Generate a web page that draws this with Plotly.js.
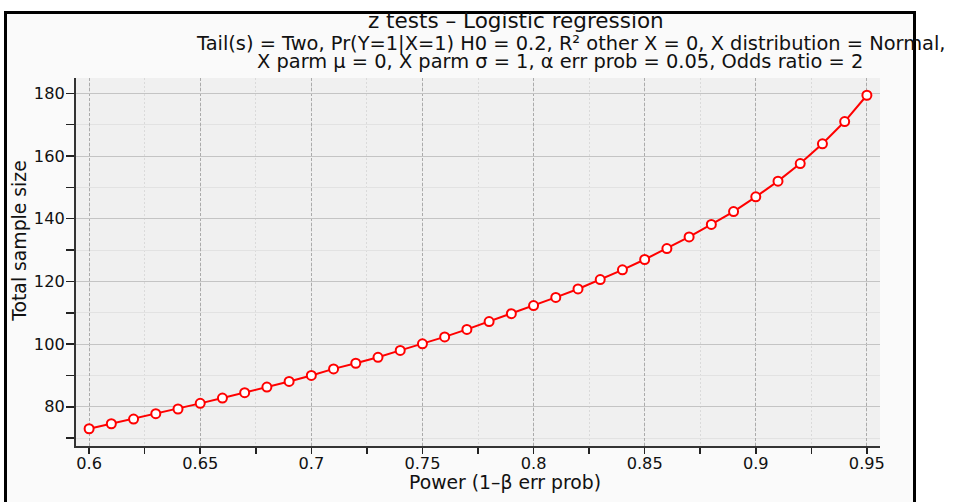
<!DOCTYPE html>
<html>
<head>
<meta charset="utf-8">
<script src="https://cdn.plot.ly/plotly-3.0.1.min.js"></script>
<style>
  html, body { margin: 0; padding: 0; background: #ffffff; }
  #frame { position: absolute; left: 4px; top: 11px; width: 906px; height: 520px;
           border: 3px solid #000; background: #fafafa; z-index: 0; }
  #chart { position: absolute; left: 0; top: 0; width: 953px; height: 502px; z-index: 1; }
</style>
</head>
<body>
<div id="frame"></div>
<div id="chart"></div>
<script>
const power = [0.60, 0.61, 0.62, 0.63, 0.64, 0.65, 0.66, 0.67, 0.68, 0.69,
               0.70, 0.71, 0.72, 0.73, 0.74, 0.75, 0.76, 0.77, 0.78, 0.79,
               0.80, 0.81, 0.82, 0.83, 0.84, 0.85, 0.86, 0.87, 0.88, 0.89,
               0.90, 0.91, 0.92, 0.93, 0.94, 0.95];
const sampleSize = [73, 74.6, 76.1, 77.8, 79.3, 81.1, 82.8, 84.5, 86.3, 88.1,
                    90.0, 92.1, 93.9, 95.8, 98.0, 100.1, 102.3, 104.7, 107.2, 109.7,
                    112.3, 114.9, 117.6, 120.6, 123.7, 127.0, 130.5, 134.2, 138.2, 142.3,
                    147.0, 152.0, 157.6, 163.9, 171.0, 179.4];
const xTickVals = [0.6, 0.65, 0.7, 0.75, 0.8, 0.85, 0.9, 0.95];
const xTickText = ["0.6", "0.65", "0.7", "0.75", "0.8", "0.85", "0.9", "0.95"];
const yTickVals = [80, 100, 120, 140, 160, 180];
const yTickText = ["80", "100", "120", "140", "160", "180"];
const titleMain = "z tests – Logistic regression";
const titleLine2 = "Tail(s) = Two, Pr(Y=1|X=1) H0 = 0.2, R² other X = 0, X distribution = Normal,";
const titleLine3 = "X parm μ = 0, X parm σ = 1, α err prob = 0.05, Odds ratio = 2";
const xTitle = "Power (1–β err prob)";
const yTitle = "Total sample size";

const tickFont = { family: "DejaVu Sans, sans-serif", size: 16.2, color: "#111" };
const titleFont = { family: "DejaVu Sans, sans-serif", size: 21.5, color: "#111" };
const subFont = { family: "DejaVu Sans, sans-serif", size: 19.4, color: "#111" };
const axisTitleFont = { family: "DejaVu Sans, sans-serif", size: 18.8, color: "#111" };

const trace = {
  x: power, y: sampleSize, type: "scatter", mode: "lines+markers",
  line: { color: "#ff0000", width: 2 },
  marker: { symbol: "circle", size: 9, color: "#ffffff", line: { color: "#ff0000", width: 2 } },
  hoverinfo: "x+y", showlegend: false, cliponaxis: false
};

const layout = {
  width: 953, height: 502,
  margin: { l: 76, r: 73, t: 78, b: 56 },
  paper_bgcolor: "rgba(0,0,0,0)",
  plot_bgcolor: "#f0f0f0",
  showlegend: false,
  xaxis: {
    range: [0.5941, 0.9559], tickmode: "array", tickvals: xTickVals, ticktext: xTickText,
    tickfont: tickFont, ticks: "outside", ticklen: 6, tickwidth: 1.5, tickcolor: "#222",
    ticklabelstandoff: -4,
    showline: true, linecolor: "#333", linewidth: 2, zeroline: false,
    showgrid: true, gridcolor: "#ababab", griddash: "3px,2px", gridwidth: 1,
    minor: { dtick: 0.025, tick0: 0.6, ticks: "outside", ticklen: 6, tickwidth: 1.5, tickcolor: "#222",
             showgrid: true, gridcolor: "#dadada", griddash: "2px,2px", gridwidth: 1 }
  },
  yaxis: {
    range: [67.5, 184.9], tickmode: "array", tickvals: yTickVals, ticktext: yTickText,
    tickfont: tickFont, ticks: "outside", ticklen: 8, tickwidth: 1.5, tickcolor: "#222",
    ticklabelstandoff: -2,
    showline: true, linecolor: "#333", linewidth: 2, zeroline: false,
    showgrid: true, gridcolor: "#c4c4c4", gridwidth: 1,
    minor: { dtick: 10, tick0: 70, ticks: "outside", ticklen: 8, tickwidth: 1.5, tickcolor: "#222",
             showgrid: true, gridcolor: "#e2e2e2", gridwidth: 1 }
  },
  annotations: [
    { text: titleMain, xref: "paper", yref: "paper", x: 0.547, y: 1.1576,
      xanchor: "center", yanchor: "middle", showarrow: false, font: titleFont },
    { text: titleLine2, xref: "paper", yref: "paper", x: 0.6157, y: 1.0924,
      xanchor: "center", yanchor: "middle", showarrow: false, font: subFont },
    { text: titleLine3, xref: "paper", yref: "paper", x: 0.6025, y: 1.0435,
      xanchor: "center", yanchor: "middle", showarrow: false, font: subFont },
    { text: xTitle, xref: "paper", yref: "paper", x: 0.534, y: -0.1005,
      xanchor: "center", yanchor: "middle", showarrow: false, font: axisTitleFont },
    { text: yTitle, xref: "paper", yref: "paper", x: -0.0697, y: 0.5576, textangle: -90,
      xanchor: "center", yanchor: "middle", showarrow: false, font: axisTitleFont }
  ]
};

Plotly.newPlot("chart", [trace], layout, { displayModeBar: false, staticPlot: true });
</script>
</body>
</html>
